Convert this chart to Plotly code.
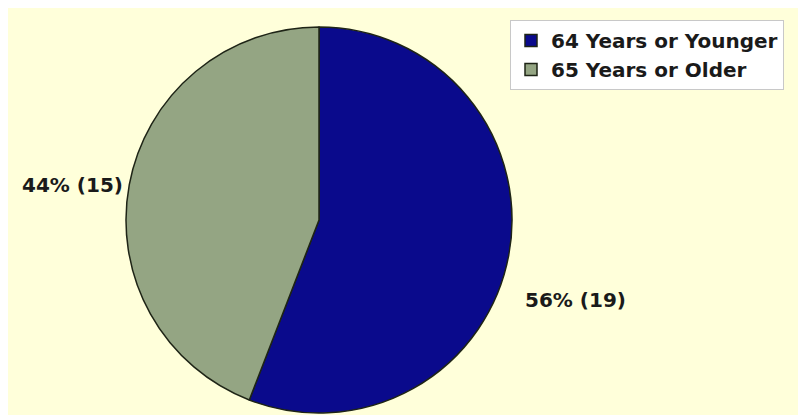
import plotly.graph_objects as go

labels = ["64 Years or Younger", "65 Years or Older"]
values = [19, 15]
colors = ["#0a0a8c", "#94a583"]

W, H = 798, 417
FONT = "DejaVu Sans, Verdana, sans-serif"

total = sum(values)
label_texts = [f"{round(100 * v / total)}% ({v})" for v in values]

fig = go.Figure()
fig.add_trace(go.Pie(
    labels=labels,
    values=values,
    sort=False,
    direction="clockwise",
    rotation=0,
    marker=dict(colors=colors, line=dict(color="#1e2416", width=1.5)),
    textinfo="none",
    domain=dict(x=[126/W, 512/W], y=[4/H, 390/H]),
    hoverinfo="label+value+percent",
))

# outside labels (text from data)
label_pos = [(523/W, 1 - 300/H, "left"), (125/W, 1 - 185/H, "right")]
annotations = []
for (x, y, anchor), txt in zip(label_pos, label_texts):
    annotations.append(dict(
        x=x, y=y, xref="paper", yref="paper", xanchor=anchor, yanchor="middle",
        text=txt, showarrow=False,
        font=dict(family=FONT, size=20, color="#1a1a1a", weight="bold"),
    ))

fig.update_layout(
    width=W, height=H,
    margin=dict(l=0, r=0, t=0, b=0),
    paper_bgcolor="white",
    plot_bgcolor="white",
    showlegend=True,
    legend=dict(
        x=510/W, y=1-20/H, xanchor="left", yanchor="top",
        bgcolor="white", bordercolor="#c8c8c8", borderwidth=1,
        font=dict(family=FONT, size=20, color="#1a1a1a", weight="bold"),
        itemwidth=30,
    ),
    annotations=annotations,
    shapes=[dict(
        type="rect", xref="paper", yref="paper",
        x0=8/W, x1=1, y0=2/H, y1=1-8/H,
        fillcolor="#ffffda", line=dict(width=0), layer="below",
    )],
)

fig.write_html("out.html")
